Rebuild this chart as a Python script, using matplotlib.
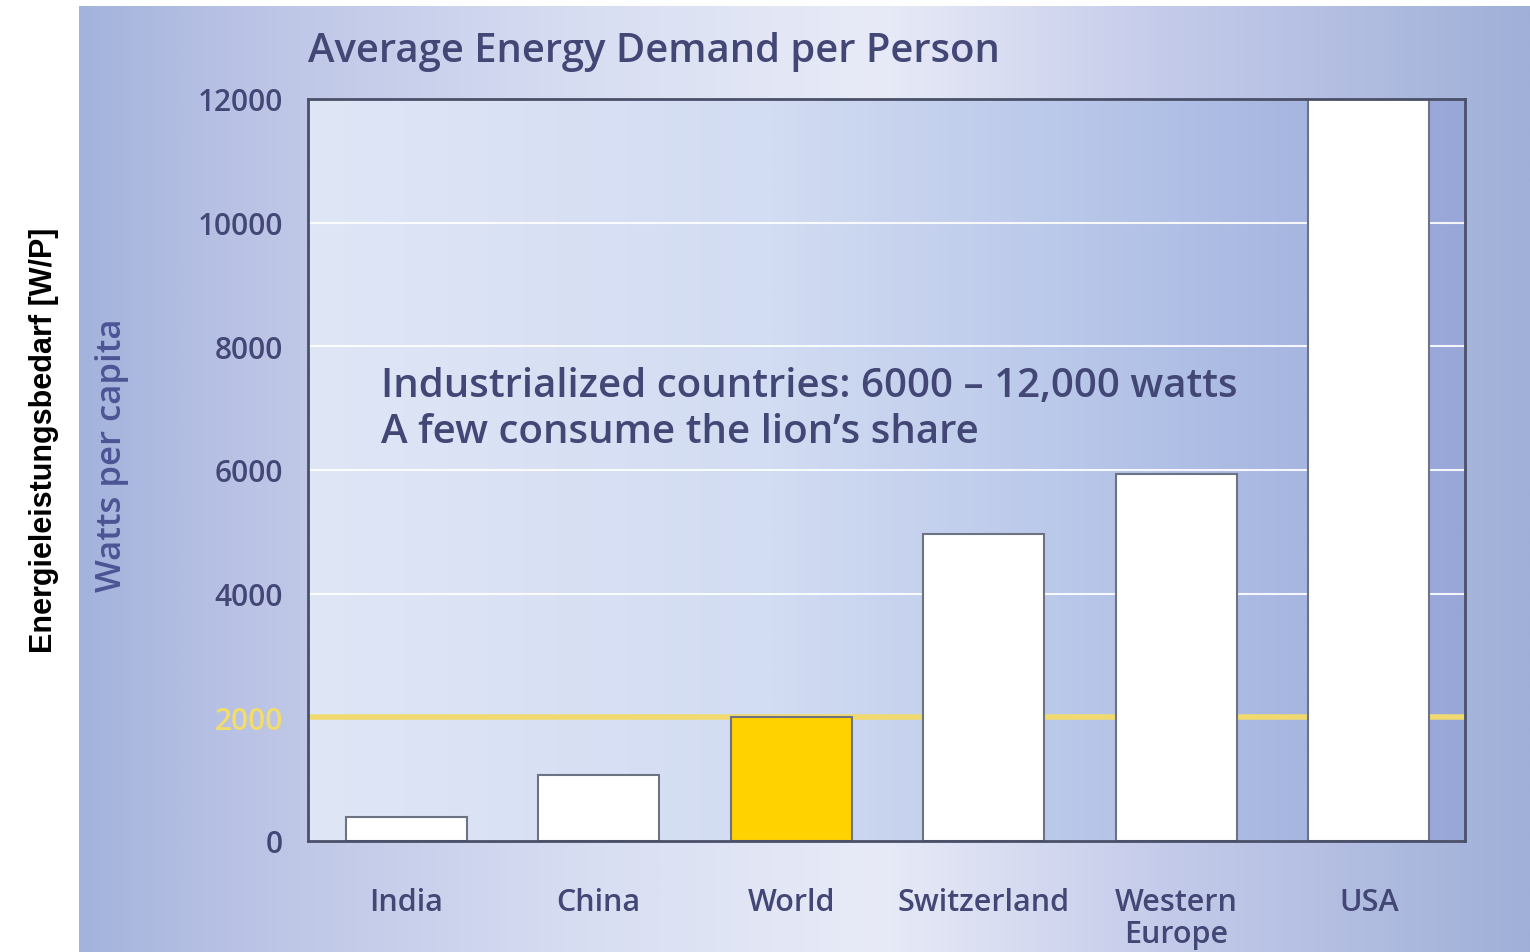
import matplotlib.pyplot as plt
import numpy as np
from matplotlib.colors import LinearSegmentedColormap

# data
countries = ['India', 'China', 'World', 'Switzerland', 'Western\nEurope', 'USA']
watts = [390, 1070, 2000, 4970, 5940, 12000]
bar_colors = ['white', 'white', '#ffd200', 'white', 'white', 'white']
yticks = [0, 2000, 4000, 6000, 8000, 10000, 12000]
world_avg = 2000

W, H = 1530, 953
txt_col = '#434775'
font = 'Open Sans'
fw = 600

fig = plt.figure(figsize=(W / 100, H / 100), dpi=100)

# background panel with horizontal gradient
bg = fig.add_axes([79 / W, 0, 1 - 79 / W, 1 - 7 / H])
bg_cmap = LinearSegmentedColormap.from_list('bg', [
    (0.0, '#a3b3dc'), (0.12, '#bcc4e6'), (0.35, '#d8def2'),
    (0.55, '#e8ebf7'), (0.75, '#c4cbea'), (1.0, '#a0b0d8')])
bg.imshow(np.linspace(0, 1, 512).reshape(1, -1), cmap=bg_cmap, aspect='auto',
          extent=[0, 1, 0, 1])
bg.axis('off')

# main axes
ax = fig.add_axes([308 / W, (H - 842) / H, (1465 - 308) / W, (842 - 100) / H])
ax.set_zorder(1)
plot_cmap = LinearSegmentedColormap.from_list('pl', [
    (0.0, '#dfe6f6'), (0.4, '#d2dcf2'), (0.65, '#bac8ea'),
    (0.86, '#a6b6e0'), (0.87, '#a6b6e0'), (0.97, '#9aa8da'), (1.0, '#98a6d8')])
ax.imshow(np.linspace(0, 1, 512).reshape(1, -1), cmap=plot_cmap, aspect='auto',
          extent=[0, 1, 0, 1], transform=ax.transAxes, zorder=0)

x = np.arange(len(countries))
for yv in yticks[2:]:
    ax.axhline(yv, color='white', lw=1.5, alpha=0.9, zorder=1)
ax.axhline(world_avg, color='#f0da70', lw=4, zorder=1)

ax.bar(x, watts, width=0.63, color=bar_colors, edgecolor='#6c7484',
       linewidth=1.5, zorder=2)

ax.set_xlim(-0.51, 5.5)
ax.set_ylim(0, 12000)

ax.set_yticks(yticks)
ax.set_yticklabels([str(v) for v in yticks], fontsize=21.5, color=txt_col,
                   family=font, fontweight=fw)
ax.get_yticklabels()[1].set_color('#f2dc6a')
ax.set_xticks(x)
ax.set_xticklabels(countries, fontsize=22, color=txt_col, family=font,
                   fontweight=fw, linespacing=1.1)
ax.tick_params(axis='y', length=0, pad=18)
ax.tick_params(axis='x', length=0, pad=33)

for sp in ax.spines.values():
    sp.set_color('#4a5068')
    sp.set_linewidth(2)

ax.text(0.063, 0.613, 'Industrialized countries: 6000 \u2013 12,000 watts',
        transform=ax.transAxes, fontsize=29, color=txt_col, family=font,
        fontweight=fw, va='center', ha='left', zorder=3)
ax.text(0.063, 0.551, 'A few consume the lion\u2019s share',
        transform=ax.transAxes, fontsize=29, color=txt_col, family=font,
        fontweight=fw, va='center', ha='left', zorder=3)

fig.text(308 / W, 1 - 52 / H, 'Average Energy Demand per Person',
         fontsize=28.8, color=txt_col, family=font, fontweight=fw,
         va='center', ha='left')
fig.text(112 / W, 1 - 455 / H, 'Watts per capita', rotation=90,
         fontsize=25, color='#4c5494', family=font, fontweight=fw,
         va='center', ha='center')
fig.text(44 / W, 1 - 440 / H, 'Energieleistungsbedarf [W/P]', rotation=90,
         fontsize=22, fontweight='bold', color='black',
         family='Liberation Sans', va='center', ha='center')

plt.savefig('out.png', dpi=100)
